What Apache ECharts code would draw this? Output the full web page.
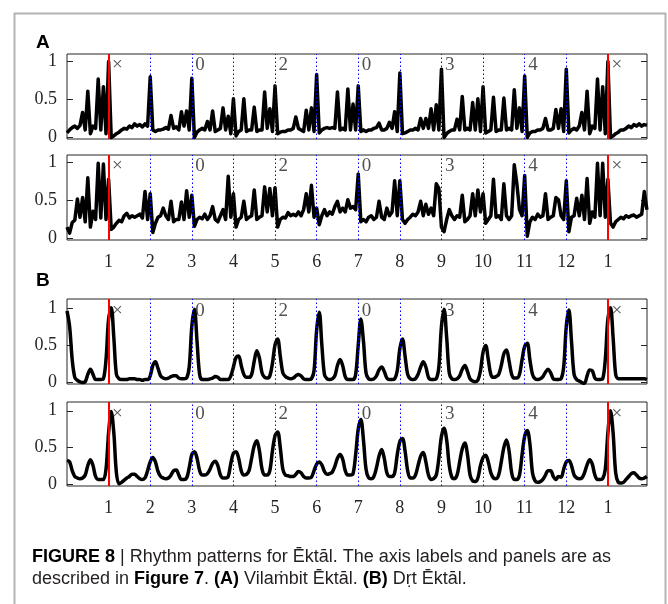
<!DOCTYPE html>
<html>
<head>
<meta charset="utf-8">
<title>Rhythm patterns for Ēktāl</title>
<script src="https://cdn.jsdelivr.net/npm/echarts@6.0.0/dist/echarts.min.js"></script>
<style>
  html, body { margin: 0; padding: 0; background: #fff; }
  #chart { width: 668px; height: 604px; }
</style>
</head>
<body>
<div id="chart"></div>
<script>
// samples are 1/16 of a beat apart, first sample sits on the left edge
const STEP = 1 / 16;

// x tick labels (beats 1..12 then sam again)
const beatLabels = ["1", "2", "3", "4", "5", "6", "7", "8", "9", "10", "11", "12", "1"];
const samBeats = [1, 13];
const dividerBeats = [2, 3, 4, 5, 6, 7, 8, 9, 10, 11, 12];
const vibhagBeats = [1, 3, 5, 7, 9, 11, 13];
const vibhagSigns = ["×", "0", "2", "0", "3", "4", "×"];

// (A) Vilambit Ektal, upper panel
const vilambitUpper = [
  0.06, 0.10, 0.13, 0.15, 0.12, 0.16, 0.33, 0.10, 0.61, 0.05, 0.15, 0.12, 0.77, 0.10, 0.67, 0.05,
  1.00, 0.00, 0.02, 0.05, 0.07, 0.10, 0.12, 0.11, 0.15, 0.13, 0.18, 0.15, 0.17, 0.14, 0.18, 0.15,
  0.80, 0.10, 0.08, 0.10, 0.10, 0.11, 0.13, 0.11, 0.29, 0.12, 0.14, 0.10, 0.34, 0.15, 0.35, 0.10,
  0.78, 0.00, 0.07, 0.10, 0.12, 0.10, 0.21, 0.10, 0.35, 0.08, 0.10, 0.12, 0.39, 0.10, 0.28, 0.05,
  0.51, 0.02, 0.08, 0.10, 0.51, 0.08, 0.10, 0.10, 0.40, 0.08, 0.10, 0.10, 0.60, 0.12, 0.38, 0.08,
  0.68, 0.05, 0.07, 0.08, 0.08, 0.10, 0.10, 0.12, 0.27, 0.12, 0.10, 0.08, 0.36, 0.10, 0.39, 0.08,
  0.83, 0.06, 0.10, 0.12, 0.13, 0.12, 0.13, 0.12, 0.60, 0.10, 0.12, 0.10, 0.64, 0.10, 0.44, 0.10,
  0.68, 0.08, 0.10, 0.08, 0.10, 0.10, 0.12, 0.13, 0.19, 0.10, 0.10, 0.12, 0.20, 0.12, 0.34, 0.08,
  0.85, 0.05, 0.06, 0.08, 0.10, 0.10, 0.12, 0.10, 0.25, 0.12, 0.25, 0.12, 0.38, 0.10, 0.43, 0.10,
  0.90, 0.00, 0.05, 0.08, 0.10, 0.10, 0.24, 0.10, 0.54, 0.10, 0.12, 0.10, 0.46, 0.10, 0.51, 0.08,
  0.67, 0.06, 0.08, 0.10, 0.53, 0.08, 0.10, 0.10, 0.52, 0.10, 0.12, 0.10, 0.63, 0.12, 0.39, 0.08,
  0.81, 0.00, 0.06, 0.08, 0.08, 0.10, 0.10, 0.12, 0.25, 0.10, 0.10, 0.12, 0.37, 0.12, 0.38, 0.08,
  0.90, 0.06, 0.10, 0.12, 0.10, 0.15, 0.33, 0.10, 0.61, 0.05, 0.15, 0.12, 0.77, 0.10, 0.67, 0.05,
  1.00, 0.00, 0.02, 0.05, 0.07, 0.10, 0.10, 0.12, 0.15, 0.13, 0.17, 0.15, 0.18, 0.15, 0.17, 0.16,
];

// (A) Vilambit Ektal, lower panel
const vilambitLower = [
  0.15, 0.07, 0.21, 0.24, 0.52, 0.28, 0.54, 0.22, 0.80, 0.15, 0.36, 0.25, 0.99, 0.27, 0.98, 0.25,
  0.78, 0.12, 0.15, 0.20, 0.24, 0.22, 0.30, 0.33, 0.27, 0.30, 0.28, 0.30, 0.32, 0.27, 0.62, 0.25,
  0.59, 0.08, 0.20, 0.28, 0.30, 0.40, 0.30, 0.25, 0.49, 0.22, 0.25, 0.25, 0.48, 0.25, 0.63, 0.28,
  0.57, 0.16, 0.25, 0.28, 0.26, 0.32, 0.25, 0.30, 0.42, 0.25, 0.22, 0.30, 0.38, 0.25, 0.82, 0.28,
  0.59, 0.15, 0.25, 0.28, 0.49, 0.25, 0.28, 0.30, 0.64, 0.25, 0.28, 0.30, 0.68, 0.35, 0.66, 0.30,
  0.67, 0.15, 0.25, 0.28, 0.27, 0.34, 0.30, 0.32, 0.30, 0.35, 0.30, 0.38, 0.59, 0.35, 0.70, 0.28,
  0.40, 0.18, 0.30, 0.38, 0.30, 0.35, 0.32, 0.42, 0.49, 0.35, 0.40, 0.35, 0.51, 0.40, 0.42, 0.38,
  0.85, 0.22, 0.25, 0.22, 0.28, 0.30, 0.25, 0.28, 0.49, 0.28, 0.25, 0.40, 0.30, 0.35, 0.76, 0.30,
  0.76, 0.25, 0.20, 0.25, 0.28, 0.32, 0.30, 0.35, 0.49, 0.30, 0.45, 0.32, 0.40, 0.30, 0.72, 0.66,
  0.15, 0.09, 0.25, 0.38, 0.30, 0.25, 0.30, 0.28, 0.57, 0.22, 0.25, 0.30, 0.59, 0.30, 0.64, 0.35,
  0.59, 0.20, 0.25, 0.30, 0.78, 0.28, 0.30, 0.25, 0.72, 0.30, 0.25, 0.30, 0.97, 0.72, 0.38, 0.30,
  0.83, 0.03, 0.22, 0.28, 0.25, 0.32, 0.28, 0.30, 0.59, 0.25, 0.28, 0.30, 0.54, 0.51, 0.30, 0.25,
  0.76, 0.09, 0.28, 0.30, 0.53, 0.30, 0.57, 0.25, 0.79, 0.20, 0.35, 0.28, 0.99, 0.30, 0.99, 0.28,
  0.78, 0.20, 0.15, 0.22, 0.25, 0.28, 0.26, 0.30, 0.28, 0.30, 0.31, 0.28, 0.30, 0.32, 0.62, 0.38,
];

// (B) Drut Ektal, upper panel
const drutUpper = [
  0.96, 0.75, 0.30, 0.06, 0.02, 0.00, -0.01, 0.00, 0.10, 0.17, 0.10, 0.03, 0.03, 0.03, 0.04, 0.30,
  0.85, 1.00, 0.60, 0.10, 0.04, 0.03, 0.03, 0.03, 0.04, 0.04, 0.04, 0.03, 0.03, 0.02, 0.03, 0.03,
  0.08, 0.22, 0.27, 0.18, 0.08, 0.05, 0.04, 0.05, 0.07, 0.08, 0.08, 0.05, 0.04, 0.04, 0.05, 0.20,
  0.75, 0.98, 0.55, 0.10, 0.03, 0.03, 0.03, 0.04, 0.05, 0.07, 0.06, 0.03, 0.03, 0.03, 0.03, 0.08,
  0.20, 0.33, 0.35, 0.22, 0.10, 0.06, 0.06, 0.10, 0.28, 0.42, 0.32, 0.12, 0.06, 0.05, 0.08, 0.25,
  0.50, 0.58, 0.35, 0.12, 0.07, 0.05, 0.04, 0.05, 0.08, 0.10, 0.08, 0.04, 0.03, 0.03, 0.04, 0.15,
  0.70, 0.94, 0.50, 0.10, 0.04, 0.03, 0.04, 0.08, 0.22, 0.30, 0.22, 0.07, 0.03, 0.03, 0.03, 0.10,
  0.50, 0.85, 0.55, 0.12, 0.04, 0.03, 0.04, 0.08, 0.16, 0.20, 0.14, 0.05, 0.03, 0.03, 0.04, 0.15,
  0.45, 0.58, 0.35, 0.10, 0.04, 0.03, 0.04, 0.10, 0.20, 0.27, 0.20, 0.06, 0.03, 0.03, 0.04, 0.20,
  0.75, 0.98, 0.60, 0.12, 0.04, 0.03, 0.04, 0.08, 0.17, 0.22, 0.14, 0.04, 0.01, 0.00, 0.02, 0.15,
  0.40, 0.49, 0.30, 0.10, 0.06, 0.07, 0.10, 0.22, 0.38, 0.43, 0.28, 0.10, 0.05, 0.05, 0.10, 0.30,
  0.48, 0.52, 0.30, 0.10, 0.04, 0.03, 0.04, 0.07, 0.13, 0.17, 0.12, 0.04, 0.03, 0.03, 0.04, 0.20,
  0.75, 0.97, 0.55, 0.10, 0.03, 0.01, -0.01, -0.02, 0.08, 0.16, 0.15, 0.05, 0.03, 0.03, 0.04, 0.30,
  0.85, 1.00, 0.60, 0.10, 0.04, 0.04, 0.04, 0.04, 0.04, 0.04, 0.04, 0.04, 0.04, 0.04, 0.04, 0.03,
];

// (B) Drut Ektal, lower panel
const drutLower = [
  0.32, 0.30, 0.18, 0.10, 0.08, 0.07, 0.08, 0.12, 0.25, 0.33, 0.25, 0.10, 0.06, 0.06, 0.06, 0.20,
  0.70, 0.99, 0.70, 0.15, 0.00, 0.02, 0.05, 0.08, 0.10, 0.13, 0.13, 0.10, 0.07, 0.06, 0.08, 0.18,
  0.30, 0.36, 0.30, 0.17, 0.10, 0.08, 0.07, 0.08, 0.12, 0.18, 0.19, 0.12, 0.06, 0.06, 0.08, 0.22,
  0.40, 0.44, 0.35, 0.18, 0.12, 0.12, 0.14, 0.20, 0.28, 0.31, 0.25, 0.12, 0.08, 0.08, 0.10, 0.28,
  0.42, 0.44, 0.35, 0.18, 0.12, 0.13, 0.18, 0.35, 0.52, 0.59, 0.45, 0.20, 0.12, 0.12, 0.18, 0.45,
  0.66, 0.71, 0.50, 0.20, 0.12, 0.11, 0.10, 0.10, 0.13, 0.17, 0.15, 0.10, 0.08, 0.08, 0.09, 0.18,
  0.27, 0.30, 0.26, 0.17, 0.13, 0.14, 0.16, 0.24, 0.35, 0.40, 0.34, 0.18, 0.12, 0.12, 0.14, 0.40,
  0.75, 0.88, 0.60, 0.20, 0.08, 0.07, 0.10, 0.22, 0.38, 0.47, 0.35, 0.15, 0.10, 0.10, 0.15, 0.40,
  0.58, 0.62, 0.45, 0.18, 0.08, 0.08, 0.12, 0.25, 0.38, 0.43, 0.30, 0.12, 0.06, 0.07, 0.12, 0.35,
  0.65, 0.76, 0.60, 0.25, 0.09, 0.07, 0.12, 0.30, 0.48, 0.56, 0.40, 0.12, 0.04, 0.03, 0.08, 0.25,
  0.36, 0.39, 0.30, 0.15, 0.08, 0.07, 0.12, 0.30, 0.50, 0.60, 0.45, 0.15, 0.06, 0.06, 0.12, 0.40,
  0.65, 0.73, 0.55, 0.15, 0.04, 0.02, 0.03, 0.06, 0.12, 0.18, 0.18, 0.10, 0.06, 0.10, 0.09, 0.20,
  0.30, 0.32, 0.25, 0.12, 0.08, 0.07, 0.08, 0.15, 0.26, 0.33, 0.27, 0.12, 0.06, 0.06, 0.07, 0.20,
  0.70, 1.00, 0.70, 0.15, 0.02, 0.01, 0.02, 0.06, 0.10, 0.14, 0.15, 0.12, 0.08, 0.07, 0.08, 0.10,
];

(function () {
  const chart = echarts.init(document.getElementById("chart"), null, { renderer: "canvas" });

  const SERIF = "'Liberation Serif', 'DejaVu Serif', serif";
  const SANS = "'Liberation Sans', Arial, sans-serif";
  const INK = "#262626";

  // ── Panel layout ───────────────────────────────────────────────────────────
  const panels = [
    { values: vilambitUpper, top: 54, height: 85, yMin: -0.02, yMax: 1.1, smooth: false, showX: false },
    { values: vilambitLower, top: 155, height: 85, yMin: -0.02, yMax: 1.1, smooth: false, showX: true },
    { values: drutUpper, top: 299, height: 85, yMin: -0.03, yMax: 1.12, smooth: 0.35, showX: false },
    { values: drutLower, top: 402, height: 84, yMin: -0.03, yMax: 1.12, smooth: 0.35, showX: true },
  ];

  const toPairs = (values) => values.map((v, i) => [i * STEP, v]);

  const grid = [], xAxis = [], yAxis = [], series = [];

  panels.forEach((p, k) => {
    grid.push({
      left: 67, width: 580, top: p.top, height: p.height,
      show: true, borderColor: INK, borderWidth: 1, backgroundColor: "transparent",
    });

    xAxis.push({
      type: "value", gridIndex: k, min: 0, max: 13.94, interval: 1,
      axisLine: { show: false }, axisTick: { show: false }, splitLine: { show: false },
      axisLabel: {
        show: p.showX, margin: 13, showMaxLabel: false,
        fontFamily: SERIF, fontSize: 18, color: INK,
        formatter: (v) => (Number.isInteger(v) && v >= 1 && v <= 13 ? beatLabels[v - 1] : ""),
      },
    });

    // left axis with labels, right axis only for the inward ticks
    yAxis.push({
      type: "value", gridIndex: k, min: p.yMin, max: p.yMax, position: "left",
      axisLine: { show: false }, splitLine: { show: false },
      axisTick: { show: true, inside: true, length: 6, customValues: [0, 0.5, 1], lineStyle: { color: INK } },
      axisLabel: { margin: 10, customValues: [0, 0.5, 1], fontFamily: SERIF, fontSize: 18, color: INK },
    });
    yAxis.push({
      type: "value", gridIndex: k, min: p.yMin, max: p.yMax, position: "right",
      axisLine: { show: false }, splitLine: { show: false },
      axisTick: { show: true, inside: true, length: 6, customValues: [0, 0.5, 1], lineStyle: { color: INK } },
      axisLabel: { show: false },
    });

    // beat dividers, drawn under the curve
    series.push({
      type: "line", xAxisIndex: k, yAxisIndex: 2 * k, data: [], z: 1, silent: true,
      markLine: {
        silent: true, symbol: "none", label: { show: false }, animation: false,
        data: dividerBeats.map((b) => ({
          xAxis: b, lineStyle: { color: "#0000ff", width: 1, type: [1.5, 2.5] },
        })).concat(samBeats.map((b) => ({
          xAxis: b, lineStyle: { color: "#ff0000", width: 2, type: "solid" },
        }))),
      },
    });

    // the rhythm curve
    series.push({
      type: "line", xAxisIndex: k, yAxisIndex: 2 * k, z: 3,
      data: toPairs(p.values), showSymbol: false, smooth: p.smooth,
      lineStyle: { color: "#000", width: 3.5, join: "round" },
      animation: false,
    });

    // tali / khali signs at the top of each vibhag
    series.push({
      type: "scatter", xAxisIndex: k, yAxisIndex: 2 * k, z: 4, silent: true,
      symbolSize: 1, itemStyle: { color: "transparent" },
      data: vibhagBeats.map((b) => [b, 0.96]),
      label: {
        show: true, position: "right", distance: 3,
        formatter: (d) => vibhagSigns[d.dataIndex],
        fontFamily: SERIF, fontSize: 19, color: INK,
      },
      animation: false,
    });
  });

  // ── Figure frame, panel letters and caption ────────────────────────────────
  const graphic = [
    {
      type: "rect", silent: true, z: 0,
      shape: { x: 14.5, y: 13.5, width: 651, height: 640 },
      style: { fill: "none", stroke: "#b4b4b4", lineWidth: 2 },
    },
    { type: "text", left: 36, top: 33, style: { text: "A", font: "bold 19px " + SANS, fill: "#000" } },
    { type: "text", left: 36, top: 271, style: { text: "B", font: "bold 19px " + SANS, fill: "#000" } },
    {
      type: "text", left: 32, top: 546,
      style: {
        text:
          "{b|FIGURE 8} | Rhythm patterns for Ēktāl. The axis labels and panels are as\n" +
          "described in {b|Figure 7}. {b|(A)} Vilaṁbit Ēktāl. {b|(B)} Dṛt Ēktāl.",
        font: "18px " + SANS, fill: "#231f20", lineHeight: 22,
        rich: { b: { fontWeight: "bold", fontFamily: SANS, fontSize: 18, lineHeight: 22, fill: "#000" } },
      },
    },
  ];

  chart.setOption({ animation: false, grid, xAxis, yAxis, series, graphic });

  window.addEventListener("resize", () => chart.resize());
})();
</script>
</body>
</html>
